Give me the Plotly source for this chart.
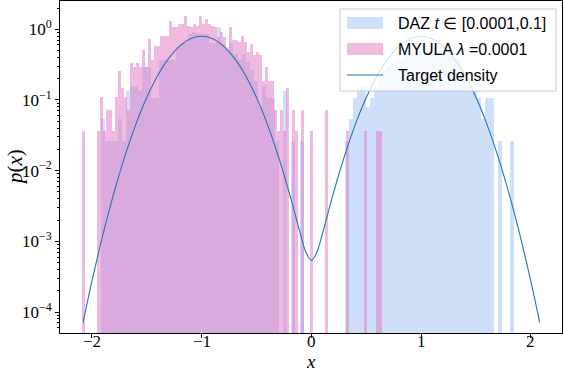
import plotly.graph_objects as go

# histogram data (1000 samples each, counts per bin)
n_samples = 1000

daz_start = -1.915
daz_width = 0.03764
daz_counts = [2, 1, 1, 1, 2, 1, 5, 6, 6, 5,
              11, 11, 4, 4, 14, 14, 14, 14, 21, 24,
              24, 32, 34, 32, 32, 32, 24, 24, 41, 23,
              21, 24, 17, 14, 17, 13, 10, 7, 3, 6,
              4, 4, 1, 0, 5, 0, 1, 0, 1, 0,
              0, 0, 0, 0, 0, 0, 0, 0, 0, 1,
              2, 4, 6, 6, 3, 4, 6, 8, 10, 11,
              13, 15, 14, 17, 19, 18, 21, 20, 22, 19,
              21, 18, 20, 17, 16, 15, 14, 10, 6, 5,
              5, 4, 2, 4, 4, 0, 1, 0, 0, 1]

myula_start = -2.088
myula_width = 0.0273
myula_counts = [1, 0, 0, 0, 0, 1, 3, 1, 2, 2,
                1, 3, 7, 4, 3, 2, 9, 8, 9, 8,
                14, 8, 20, 10, 16, 16, 22, 22, 22, 36,
                29, 29, 32, 32, 42, 30, 29, 32, 30, 42,
                32, 38, 32, 30, 29, 21, 25, 21, 14, 29,
                19, 19, 18, 22, 18, 13, 17, 12, 13, 12,
                5, 8, 5, 5, 2, 1, 2, 1, 4, 0,
                2, 1, 0, 2, 0, 0, 1, 0, 0, 0,
                0, 2, 0, 0, 0, 0, 0, 0, 1, 0,
                0, 0, 0, 0, 1, 0, 0, 0, 1, 1]

# target density
curve_x = [-2.08, -2.0, -1.9, -1.8, -1.7, -1.6, -1.5, -1.4, -1.3, -1.2, -1.1, -1.0,
           -0.9, -0.8, -0.7, -0.6, -0.5, -0.4, -0.3, -0.2, -0.1, -0.05, 0.0,
           0.05, 0.1, 0.2, 0.3, 0.4, 0.5, 0.6, 0.7, 0.8, 0.9, 1.0,
           1.1, 1.2, 1.3, 1.4, 1.5, 1.6, 1.7, 1.8, 1.9, 2.0, 2.08]
curve_p = [7.06e-5, 2.68e-4, 1.22e-3, 4.77e-3, 1.58e-2, 4.48e-2, 0.108, 0.222, 0.388, 0.579, 0.737, 0.798,
           0.737, 0.579, 0.388, 0.222, 0.108, 0.0448, 0.0158, 4.78e-3, 1.27e-3, 7.02e-4, 5.35e-4,
           7.02e-4, 1.27e-3, 4.78e-3, 0.0158, 0.0448, 0.108, 0.222, 0.388, 0.579, 0.737, 0.798,
           0.737, 0.579, 0.388, 0.222, 0.108, 0.0448, 0.0158, 4.77e-3, 1.22e-3, 2.68e-4, 7.06e-5]

x_ticks = [-2, -1, 0, 1, 2]
x_ticktext = ["−2", "−1", "0", "1", "2"]
y_ticks = [1e-4, 1e-3, 1e-2, 1e-1, 1]
y_ticktext = ["10<sup>−4</sup>", "10<sup>−3</sup>", "10<sup>−2</sup>", "10<sup>−1</sup>", "10<sup>0</sup>"]
legend_labels = ["DAZ <i>t</i> ∈ [0.0001,0.1]", "MYULA <i>λ</i> =0.0001", "Target density"]

blue = "#6495ED"
pink = "#e377c2"
line_c = "#1f77b4"


def hist(start, width, counts):
    xs = [start + (i + 0.5) * width for i in range(len(counts))]
    ys = [c / (n_samples * width) for c in counts]
    return xs, ys


fig = go.Figure()
bx, by = hist(daz_start, daz_width, daz_counts)
fig.add_trace(go.Bar(x=bx, y=by, width=daz_width, marker=dict(color=blue, line=dict(width=0)),
                     opacity=0.3, name=legend_labels[0], showlegend=False))
mx, my = hist(myula_start, myula_width, myula_counts)
fig.add_trace(go.Bar(x=mx, y=my, width=myula_width, marker=dict(color=pink, line=dict(width=0)),
                     opacity=0.5, name=legend_labels[1], showlegend=False))
fig.add_trace(go.Scatter(x=curve_x, y=curve_p, mode="lines", line=dict(color=line_c, width=1.1, shape="spline"),
                         name=legend_labels[2], showlegend=False))

# plot area in pixels: x 60..562, y 1..333
L, R, T, B = 60, 562, 1, 333


def px(x):
    return (x - L) / (R - L)


def py(y):
    return (B - y) / (B - T)


serif = "Liberation Serif"
sans = "Liberation Sans"

shapes = [
    dict(type="rect", xref="paper", yref="paper", x0=px(340), x1=px(556), y0=py(91), y1=py(9),
         fillcolor="rgba(255,255,255,0.8)", line=dict(color="#cccccc", width=1), layer="above"),
    dict(type="rect", xref="paper", yref="paper", x0=px(347), x1=px(383), y0=py(29), y1=py(17),
         fillcolor=blue, opacity=0.3, line=dict(width=0), layer="above"),
    dict(type="rect", xref="paper", yref="paper", x0=px(347), x1=px(383), y0=py(55), y1=py(43),
         fillcolor=pink, opacity=0.5, line=dict(width=0), layer="above"),
    dict(type="line", xref="paper", yref="paper", x0=px(347), x1=px(383), y0=py(75), y1=py(75),
         line=dict(color=line_c, width=1.2), layer="above"),
]
annotations = []
for lab, yy in zip(legend_labels, [23, 49, 75]):
    annotations.append(dict(text=lab, xref="paper", yref="paper", x=px(396), y=py(yy), xanchor="left",
                            yanchor="middle", showarrow=False, font=dict(family=sans, size=16, color="black")))
# x tick labels placed a little closer to the axis than plotly's default
for tv, tt in zip(x_ticks, x_ticktext):
    annotations.append(dict(text=tt, xref="x", yref="paper", x=tv, y=py(341), xanchor="center",
                            yanchor="middle", showarrow=False, font=dict(family=serif, size=17, color="black")))
annotations.append(dict(text="<i>x</i>", xref="paper", yref="paper", x=0.5, y=py(361), xanchor="center",
                        yanchor="middle", showarrow=False, font=dict(family=serif, size=19, color="black")))
annotations.append(dict(text="<i>p</i>(<i>x</i>)", xref="paper", yref="paper", x=px(15), y=py(167),
                        xanchor="center", yanchor="middle", textangle=-90, showarrow=False,
                        font=dict(family=serif, size=21, color="black")))

minor_ticks = [m * 10.0 ** e for e in range(-5, 1) for m in range(2, 10)]

fig.update_layout(
    width=564, height=370,
    margin=dict(l=L, r=564 - R, t=T, b=370 - B, autoexpand=False),
    paper_bgcolor="white", plot_bgcolor="white",
    barmode="overlay", bargap=0,
    shapes=shapes, annotations=annotations,
    font=dict(family=serif, size=16, color="black"),
    xaxis=dict(range=[-2.29, 2.283], tickvals=x_ticks, showticklabels=False, showgrid=False, zeroline=False,
               automargin=False, showline=True, mirror=True, linecolor="black", linewidth=1,
               ticks="outside", ticklen=4, tickwidth=1, tickcolor="black"),
    yaxis=dict(type="log", range=[-4.297, 0.40], tickvals=y_ticks, ticktext=y_ticktext, automargin=False,
               showgrid=False, zeroline=False, showline=True, mirror=True, linecolor="black", linewidth=1,
               ticks="outside", ticklen=4, tickwidth=1, tickcolor="black",
               tickfont=dict(family=serif, size=17),
               minor=dict(tickvals=minor_ticks, ticks="outside", ticklen=2, tickwidth=0.8,
                          tickcolor="black", showgrid=False)),
)

# the page body has a default 8px margin; drop it so the figure sits at the window corner
fig.write_html("out.html", config={"displayModeBar": False},
               post_script="document.body.style.margin='0px';")
